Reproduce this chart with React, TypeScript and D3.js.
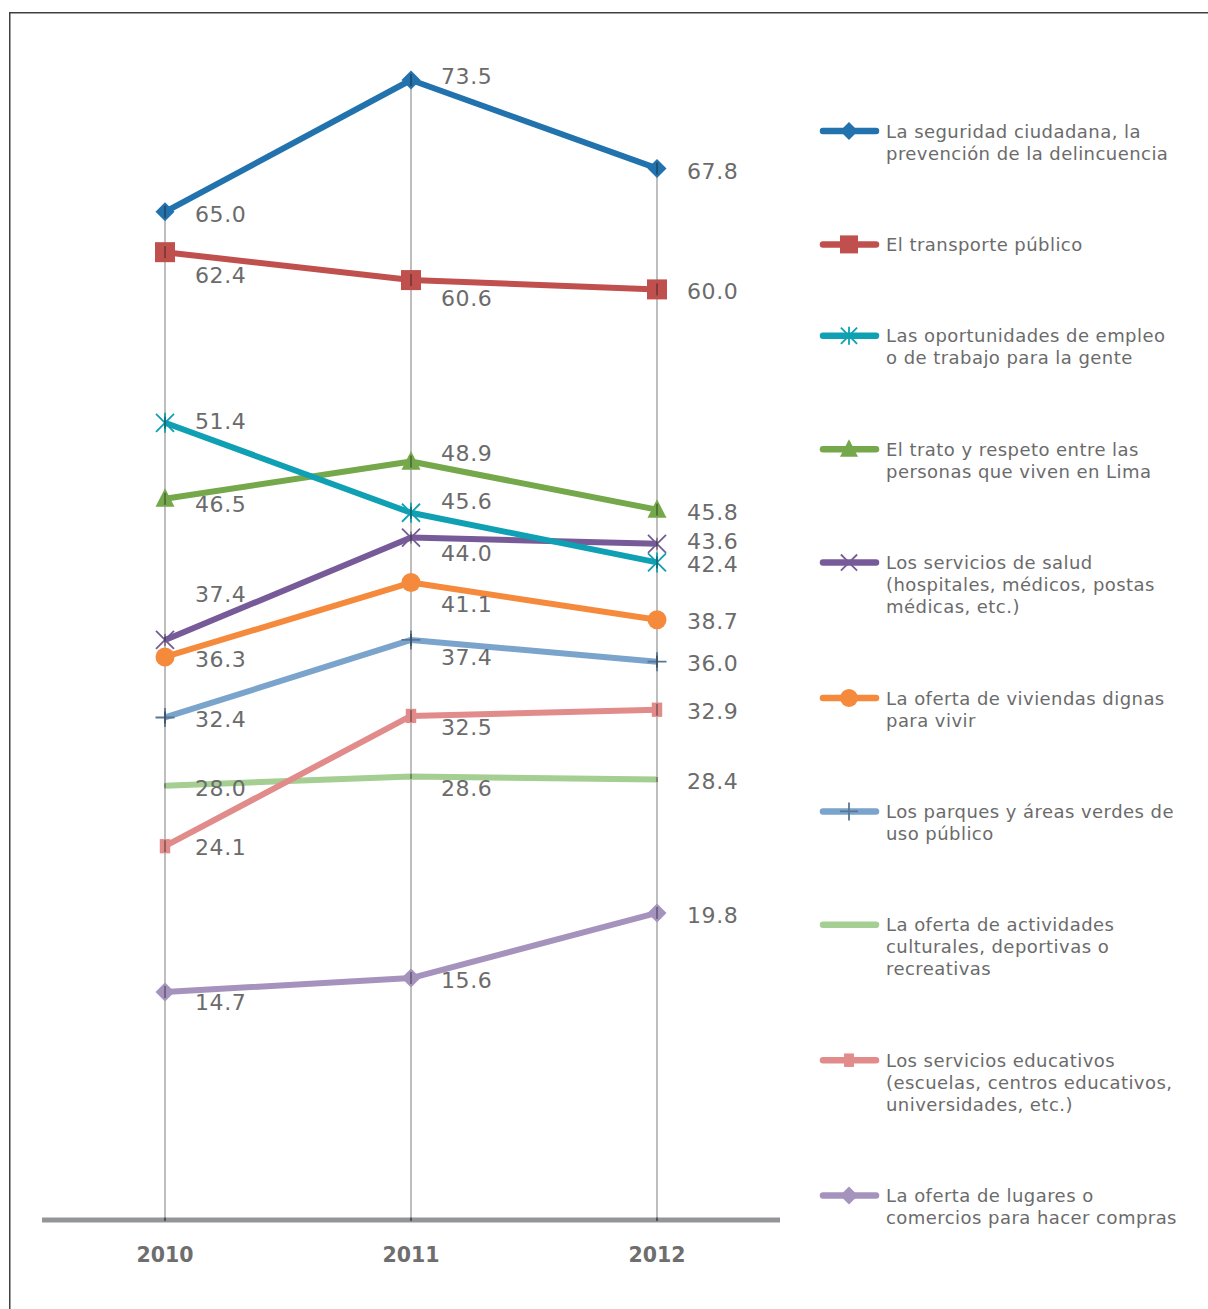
import { useEffect, useRef } from "react";
import * as d3 from "d3";

const years = ["2010", "2011", "2012"];

// Porcentajes por año
const seguridad = [65.0, 73.5, 67.8];
const transporte = [62.4, 60.6, 60.0];
const empleo = [51.4, 45.6, 42.4];
const trato = [46.5, 48.9, 45.8];
const salud = [37.4, 44.0, 43.6];
const viviendas = [36.3, 41.1, 38.7];
const parques = [32.4, 37.4, 36.0];
const actividades = [28.0, 28.6, 28.4];
const educativos = [24.1, 32.5, 32.9];
const compras = [14.7, 15.6, 19.8];

type Marker = "diamond" | "square" | "asterisk" | "triangle" | "x" | "circle" | "plus" | "none" | "dash";

type Serie = {
  lines: string[];
  values: number[];
  color: string;
  marker: Marker;
};

const series: Serie[] = [
  { lines: ["La seguridad ciudadana, la", "prevención de la delincuencia"], values: seguridad, color: "#2273ad", marker: "diamond" },
  { lines: ["El transporte público"], values: transporte, color: "#c0504d", marker: "square" },
  { lines: ["Las oportunidades de empleo", "o de trabajo para la gente"], values: empleo, color: "#0fa0b3", marker: "asterisk" },
  { lines: ["El trato y respeto entre las", "personas que viven en Lima"], values: trato, color: "#75a84b", marker: "triangle" },
  { lines: ["Los servicios de salud", "(hospitales, médicos, postas", "médicas, etc.)"], values: salud, color: "#775b98", marker: "x" },
  { lines: ["La oferta de viviendas dignas", "para vivir"], values: viviendas, color: "#f58a3d", marker: "circle" },
  { lines: ["Los parques y áreas verdes de", "uso público"], values: parques, color: "#7ba4cc", marker: "plus" },
  { lines: ["La oferta de actividades", "culturales, deportivas o", "recreativas"], values: actividades, color: "#a4ce92", marker: "none" },
  { lines: ["Los servicios educativos", "(escuelas, centros educativos,", "universidades, etc.)"], values: educativos, color: "#e28b8b", marker: "dash" },
  { lines: ["La oferta de lugares o", "comercios para hacer compras"], values: compras, color: "#a593bd", marker: "diamond" },
];

// vertical nudge of each data label (px), as placed in the original
const labelDy = [
  [2, -4, 3],
  [23, 18, 2],
  [-2, -12, 2],
  [5, -9, 2],
  [-46, 15, -3],
  [2, 21, 1],
  [2, 17, 1],
  [2, 12, 1],
  [1, 11, 1],
  [10, 2, 2],
];

// teal drawn last so it sits over green and purple
const drawOrder = [0, 1, 3, 4, 5, 6, 7, 8, 2, 9];

const textColor = "#6b6b6b";
const font = "'DejaVu Sans', Verdana, sans-serif";

function drawMarker(
  g: d3.Selection<SVGGElement, unknown, null, undefined>,
  type: Marker,
  x: number,
  y: number,
  color: string,
  s: number
) {
  switch (type) {
    case "diamond":
      g.append("path").attr("d", `M${x},${y - s}L${x + s},${y}L${x},${y + s}L${x - s},${y}Z`).attr("fill", color);
      break;
    case "square":
      g.append("rect").attr("x", x - s).attr("y", y - s).attr("width", 2 * s).attr("height", 2 * s).attr("fill", color);
      break;
    case "triangle":
      g.append("path")
        .attr("d", `M${x},${y - s * 1.1}L${x + s},${y + s * 0.85}L${x - s},${y + s * 0.85}Z`)
        .attr("fill", color);
      break;
    case "circle":
      g.append("circle").attr("cx", x).attr("cy", y).attr("r", s).attr("fill", color);
      break;
    case "x":
    case "asterisk": {
      const d = s * 0.9;
      let p = `M${x - d},${y - d}L${x + d},${y + d}M${x - d},${y + d}L${x + d},${y - d}`;
      if (type === "asterisk") p += `M${x},${y - s}L${x},${y + s}`;
      g.append("path").attr("d", p).attr("stroke", color).attr("stroke-width", 1.8).attr("fill", "none");
      break;
    }
    case "plus":
      g.append("path")
        .attr("d", `M${x - s},${y}L${x + s},${y}M${x},${y - s}L${x},${y + s}`)
        .attr("stroke", d3.color(color)!.darker(0.9).formatHex())
        .attr("stroke-width", 1.8)
        .attr("fill", "none");
      break;
    case "dash":
      g.append("rect")
        .attr("x", x - s * 0.55)
        .attr("y", y - s * 0.75)
        .attr("width", s * 1.1)
        .attr("height", s * 1.5)
        .attr("fill", color);
      break;
    default:
      break;
  }
}

export default function App() {
  const svgRef = useRef<SVGSVGElement>(null);

  useEffect(() => {
    const svg = svgRef.current;
    if (!svg) return;
    document.body.style.margin = "0";

    d3.select(svg).selectAll("*").remove();

    const width = 1208;
    const height = 1309;
    const axisY = 1220;

    const x = d3.scalePoint<string>().domain(years).range([42, 780]).padding(0.5);
    const y = d3.scaleLinear().domain([0, 75]).range([axisY, axisY - 75 * 15.51]);

    const root = d3.select(svg).attr("width", width).attr("height", height);
    const g = root.append("g") as d3.Selection<SVGGElement, unknown, null, undefined>;

    // frame
    g.append("rect")
      .attr("x", 9.75)
      .attr("y", 12.75)
      .attr("width", 1400)
      .attr("height", 1500)
      .attr("fill", "none")
      .attr("stroke", "#404040")
      .attr("stroke-width", 1.5);

    // drop lines from highest value down to the axis
    years.forEach((yr, i) => {
      const maxV = d3.max(series, (s) => s.values[i]) ?? 0;
      g.append("line")
        .attr("x1", x(yr)!)
        .attr("x2", x(yr)!)
        .attr("y1", y(maxV))
        .attr("y2", y(0))
        .attr("stroke", "#a8a8a8")
        .attr("stroke-width", 1.5);
    });

    // axis line
    g.append("line")
      .attr("x1", 42)
      .attr("x2", 780)
      .attr("y1", axisY)
      .attr("y2", axisY)
      .attr("stroke", "#949599")
      .attr("stroke-width", 5);

    years.forEach((yr) => {
      g.append("line")
        .attr("x1", x(yr)!)
        .attr("x2", x(yr)!)
        .attr("y1", axisY - 2.5)
        .attr("y2", axisY + 1)
        .attr("stroke", "#111")
        .attr("stroke-width", 1);
      g.append("text")
        .attr("x", x(yr)!)
        .attr("y", 1254 + 7.5)
        .attr("text-anchor", "middle")
        .attr("font-family", font)
        .attr("font-weight", "bold")
        .attr("font-size", 20.5)
        .attr("fill", "#6e6e6e")
        .text(yr);
    });

    const line = d3
      .line<number>()
      .x((_, i) => x(years[i])!)
      .y((d) => y(d));

    drawOrder.forEach((si) => {
      const s = series[si];
      const sg = g.append("g") as d3.Selection<SVGGElement, unknown, null, undefined>;
      sg.append("path")
        .datum(s.values)
        .attr("d", line)
        .attr("fill", "none")
        .attr("stroke", s.color)
        .attr("stroke-width", 6)
        .attr("stroke-linejoin", "round");
      s.values.forEach((v, i) => {
        const cx = x(years[i])!;
        const cy = y(v);
        const size = s.marker === "square" ? 10 : s.marker === "asterisk" || s.marker === "x" ? 10 : 9.5;
        drawMarker(sg, s.marker, cx, cy, s.color, size);
        const tick = s.marker === "none" ? 2.5 : s.marker === "circle" ? 0 : 6;
        if (tick > 0) {
          sg.append("line")
            .attr("x1", cx)
            .attr("x2", cx)
            .attr("y1", cy - tick)
            .attr("y2", cy + tick)
            .attr("stroke", "#1a1a1a")
            .attr("stroke-opacity", 0.75)
            .attr("stroke-width", 1);
        }
      });
    });

    // data labels
    series.forEach((s, si) => {
      s.values.forEach((v, i) => {
        g.append("text")
          .attr("x", x(years[i])! + 30)
          .attr("y", y(v) + labelDy[si][i] + 8)
          .attr("font-family", font)
          .attr("font-size", 22)
          .attr("letter-spacing", 0.6)
          .attr("fill", textColor)
          .text(d3.format(".1f")(v));
      });
    });

    // legend
    let ly = 131;
    series.forEach((s) => {
      const lg = g.append("g") as d3.Selection<SVGGElement, unknown, null, undefined>;
      lg.append("line")
        .attr("x1", 823)
        .attr("x2", 876)
        .attr("y1", ly)
        .attr("y2", ly)
        .attr("stroke", s.color)
        .attr("stroke-width", 6.5)
        .attr("stroke-linecap", "round");
      drawMarker(lg, s.marker, 849, ly, s.color, 9);
      s.lines.forEach((t, k) => {
        lg.append("text")
          .attr("x", 886)
          .attr("y", ly + k * 22 + 6.5)
          .attr("font-family", font)
          .attr("font-size", 18)
          .attr("letter-spacing", 0.45)
          .attr("fill", textColor)
          .text(t);
      });
      ly += 69.4 + 22 * s.lines.length;
    });
  }, []);

  return <svg ref={svgRef} style={{ display: "block", position: "absolute", left: 0, top: 0 }} />;
}
